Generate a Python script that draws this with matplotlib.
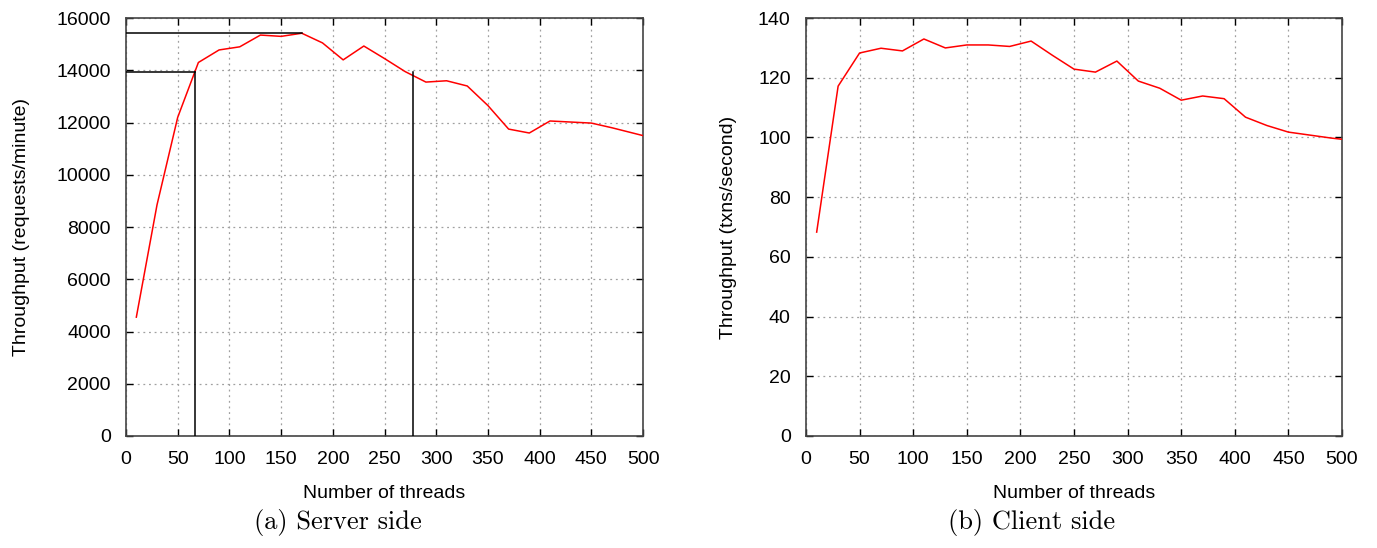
import matplotlib.pyplot as plt

# server side throughput (requests/minute)
server_threads = [10, 30, 50, 70, 90, 110, 130, 150, 170, 190, 210, 230, 250, 270,
                  290, 310, 330, 350, 370, 390, 410, 430, 450, 470, 490, 500]
server_tput = [4550, 8850, 12200, 14300, 14780, 14900, 15350, 15300, 15420, 15050,
               14400, 14930, 14450, 13950, 13550, 13600, 13400, 12650, 11750, 11600,
               12060, 12020, 11980, 11800, 11600, 11500]

# client side throughput (txns/second)
client_threads = [10, 30, 50, 70, 90, 110, 130, 150, 170, 190, 210, 230, 250, 270,
                  290, 310, 330, 350, 370, 390, 410, 430, 450, 470, 490, 500]
client_tput = [68.3, 117.2, 128.3, 129.9, 129.0, 133.0, 130.0, 131.0, 131.0, 130.5,
               132.3, 127.5, 122.9, 121.9, 125.6, 118.9, 116.5, 112.5, 113.9, 113.0,
               106.8, 104.0, 101.8, 100.8, 99.8, 99.4]

# reference lines on the server plot
peak_x, peak_y = 170, 15420
knee_lo, knee_hi, knee_y = 67, 278, 13930

sans = ['Liberation Sans', 'DejaVu Sans']
serif = ['cmr10', 'DejaVu Serif']

fig = plt.figure(figsize=(13.77, 5.48), dpi=100)
ax1 = fig.add_axes([0.0915, 0.2044, 0.3755, 0.7626])
ax2 = fig.add_axes([0.5853, 0.2044, 0.3893, 0.7626])


def style(ax, xmax, ymax, ystep):
    ax.set_xlim(0, xmax)
    ax.set_ylim(0, ymax)
    ax.set_xticks(range(0, xmax + 1, 50))
    ax.set_yticks(range(0, ymax + 1, ystep))
    ax.grid(True, linestyle=(0, (1.5, 3)), color='#a0a0a0', linewidth=0.9)
    ax.tick_params(direction='in', top=True, right=True, length=5, width=1,
                   labelsize=14, pad=11)
    for lab in ax.get_xticklabels() + ax.get_yticklabels():
        lab.set_family(sans)
    for s in ax.spines.values():
        s.set_color('#444444')
        s.set_linewidth(1.2)
    ax.set_xlabel('Number of threads', family=sans, fontsize=14, labelpad=12)


ax1.plot(server_threads, server_tput, color='red', linewidth=1.1, zorder=3)
ax1.plot([0, peak_x], [peak_y, peak_y], color='black', linewidth=1.1, zorder=4)
ax1.plot([0, knee_lo], [knee_y, knee_y], color='black', linewidth=1.1, zorder=4)
ax1.plot([knee_lo, knee_lo], [0, knee_y], color='black', linewidth=1.1, zorder=4)
ax1.plot([knee_hi, knee_hi], [0, knee_y], color='black', linewidth=1.1, zorder=4)
style(ax1, 500, 16000, 2000)
ax1.set_ylabel('Throughput (requests/minute)', family=sans, fontsize=14, labelpad=19)

ax2.plot(client_threads, client_tput, color='red', linewidth=1.1, zorder=3)
style(ax2, 500, 140, 20)
ax2.set_ylabel('Throughput (txns/second)', family=sans, fontsize=14, labelpad=15)

fig.text(0.2455, 0.0474, '(a) Server side', family=serif, fontsize=19,
         ha='center', va='center')
fig.text(0.749, 0.0474, '(b) Client side', family=serif, fontsize=19,
         ha='center', va='center')

fig.savefig('out.png', dpi=100)
